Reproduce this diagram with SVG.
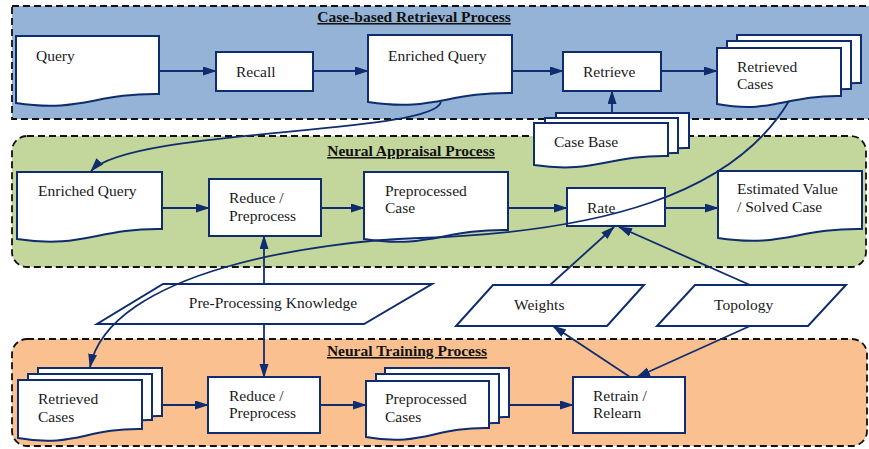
<svg xmlns="http://www.w3.org/2000/svg" width="869" height="449" viewBox="0 0 869 449">
<style>
.band{stroke:#111;stroke-width:1.8;stroke-dasharray:7,4}
.n{fill:#fff;stroke:#0f2d6e;stroke-width:2}
.t{font-family:"Liberation Serif","Times New Roman",serif;font-size:15.5px;fill:#1a1a1a}
.ttl{font-family:"Liberation Serif","Times New Roman",serif;font-size:15.5px;font-weight:bold;fill:#111;text-decoration:underline;text-anchor:middle}
.c{fill:none;stroke:#0f2d6e;stroke-width:1.8}
.a{marker-end:url(#ah)}
</style>
<defs>
<marker id="ah" markerUnits="userSpaceOnUse" markerWidth="14" markerHeight="10" refX="13" refY="4.5" orient="auto">
<path d="M0,0 L14,4.5 L0,9 Z" fill="#0f2d6e"/>
</marker>
</defs>

<g id="bands">
<rect class="band" x="12" y="6" width="870" height="113" fill="#95b3d7"/>
<rect class="band" x="12" y="136" width="854" height="131" rx="15" fill="#c3d69b"/>
<rect class="band" x="12" y="339" width="855" height="107" rx="15" fill="#fac090"/>
<text class="ttl" x="414" y="22">Case-based Retrieval Process</text>
<text class="ttl" x="411" y="156">Neural Appraisal Process</text>
<text class="ttl" x="407" y="356">Neural Training Process</text>
</g>

<g id="query">
<path class="n" d="M16,36 H159 V94 C94.6,93 80.4,113 16,103 Z"/>
<text class="t" x="36" y="61">Query</text>
</g>
<g id="recall">
<rect class="n" x="216" y="52" width="97" height="39"/>
<text class="t" x="236" y="77">Recall</text>
</g>
<g id="enriched-query-1">
<path class="n" d="M368,35 H512 V93 C447.2,92 432.8,112 368,102 Z"/>
<text class="t" x="388" y="61">Enriched Query</text>
</g>
<g id="retrieve">
<rect class="n" x="563" y="52" width="98" height="39"/>
<text class="t" x="583" y="77">Retrieve</text>
</g>
<g id="retrieved-cases-1">
<path class="n" d="M737,35 H861 V83 C805.2,82 792.8,101 737,91 Z"/>
<path class="n" d="M727,41 H851 V89 C795.2,88 782.8,107 727,97 Z"/>
<path class="n" d="M717,48 H841 V96 C785.2,95 772.8,114 717,104 Z"/>
<text class="t" x="737" y="72">Retrieved</text>
<text class="t" x="737" y="89">Cases</text>
</g>
<g id="case-base">
<path class="n" d="M556,113 H689 V148 C629,147 616,166 556,157 Z"/>
<path class="n" d="M545,118 H678 V153 C618,152 605,171 545,162 Z"/>
<path class="n" d="M534,123 H668 V156 C607.7,155 594.3,174 534,165 Z"/>
<text class="t" x="554" y="147">Case Base</text>
</g>

<g id="enriched-query-2">
<path class="n" d="M17,172 H162 V229 C96.8,228 82.3,249 17,239 Z"/>
<text class="t" x="38" y="196">Enriched Query</text>
</g>
<g id="reduce-1">
<rect class="n" x="209" y="179" width="112" height="57"/>
<text class="t" x="229" y="203">Reduce /</text>
<text class="t" x="229" y="221">Preprocess</text>
</g>
<g id="preprocessed-case">
<path class="n" d="M364,172 H508 V230 C443.2,229 428.8,249 364,239 Z"/>
<text class="t" x="385" y="196">Preprocessed</text>
<text class="t" x="385" y="213">Case</text>
</g>
<g id="rate">
<rect class="n" x="567" y="188" width="98" height="38"/>
<text class="t" x="587" y="213">Rate</text>
</g>
<g id="estimated-value">
<path class="n" d="M718,171 H862 V229 C797.2,228 782.8,248 718,238 Z"/>
<text class="t" x="737" y="194">Estimated Value</text>
<text class="t" x="737" y="212">/ Solved Case</text>
</g>

<g id="pre-processing-knowledge">
<path class="n" d="M163,284 H432 L364,324 H97 Z"/>
<text class="t" x="273" y="308" text-anchor="middle">Pre-Processing Knowledge</text>
</g>
<g id="weights">
<path class="n" d="M493,285 H644 L607,326 H456 Z"/>
<text class="t" x="514" y="310">Weights</text>
</g>
<g id="topology">
<path class="n" d="M695,285 H846 L808,326 H657 Z"/>
<text class="t" x="714" y="310">Topology</text>
</g>

<g id="retrieved-cases-2">
<path class="n" d="M38,368 H162 V416 C106.2,415 93.8,435 38,425 Z"/>
<path class="n" d="M28,374 H152 V420 C96.2,419 83.8,440 28,430 Z"/>
<path class="n" d="M18,380 H142 V429 C86.2,428 73.8,448 18,438 Z"/>
<text class="t" x="38" y="404">Retrieved</text>
<text class="t" x="38" y="422">Cases</text>
</g>
<g id="reduce-2">
<rect class="n" x="208" y="377" width="112" height="56"/>
<text class="t" x="229" y="401">Reduce /</text>
<text class="t" x="229" y="418">Preprocess</text>
</g>
<g id="preprocessed-cases">
<path class="n" d="M385,368 H509 V417 C453.2,416 440.8,436 385,426 Z"/>
<path class="n" d="M376,374 H499 V423 C443.7,422 431.4,442 376,432 Z"/>
<path class="n" d="M366,381 H489 V428 C433.7,427 421.4,447 366,437 Z"/>
<text class="t" x="385" y="404">Preprocessed</text>
<text class="t" x="385" y="422">Cases</text>
</g>
<g id="retrain">
<rect class="n" x="573" y="377" width="112" height="56"/>
<text class="t" x="593" y="401">Retrain /</text>
<text class="t" x="593" y="418">Relearn</text>
</g>

<g id="connectors">
<path class="c a" d="M159,71 H216"/>
<path class="c a" d="M313,71 H368"/>
<path class="c a" d="M512,71 H563"/>
<path class="c a" d="M661,71 H717"/>
<path class="c a" d="M612,113 V91"/>
<path class="c a" d="M162,208 H209"/>
<path class="c a" d="M321,208 H364"/>
<path class="c a" d="M508,208 H567"/>
<path class="c a" d="M665,208 H718"/>
<path class="c a" d="M264,284 V236"/>
<path class="c a" d="M264,324 V377"/>
<path class="c a" d="M162,405 H208"/>
<path class="c a" d="M320,405 H366"/>
<path class="c a" d="M509,405 H573"/>
<path class="c a" d="M550,285 L614,227"/>
<path class="c a" d="M750,285 L619,227"/>
<path class="c a" d="M630,377 L553,326"/>
<path class="c a" d="M750,326 L637,377"/>
<path class="c a" d="M441,102 C432,135 130,128 91,171"/>
<path class="c a" d="M789,101 C733,195 600,232 420,238 C320,241 110,270 90,367"/>
</g>
</svg>
